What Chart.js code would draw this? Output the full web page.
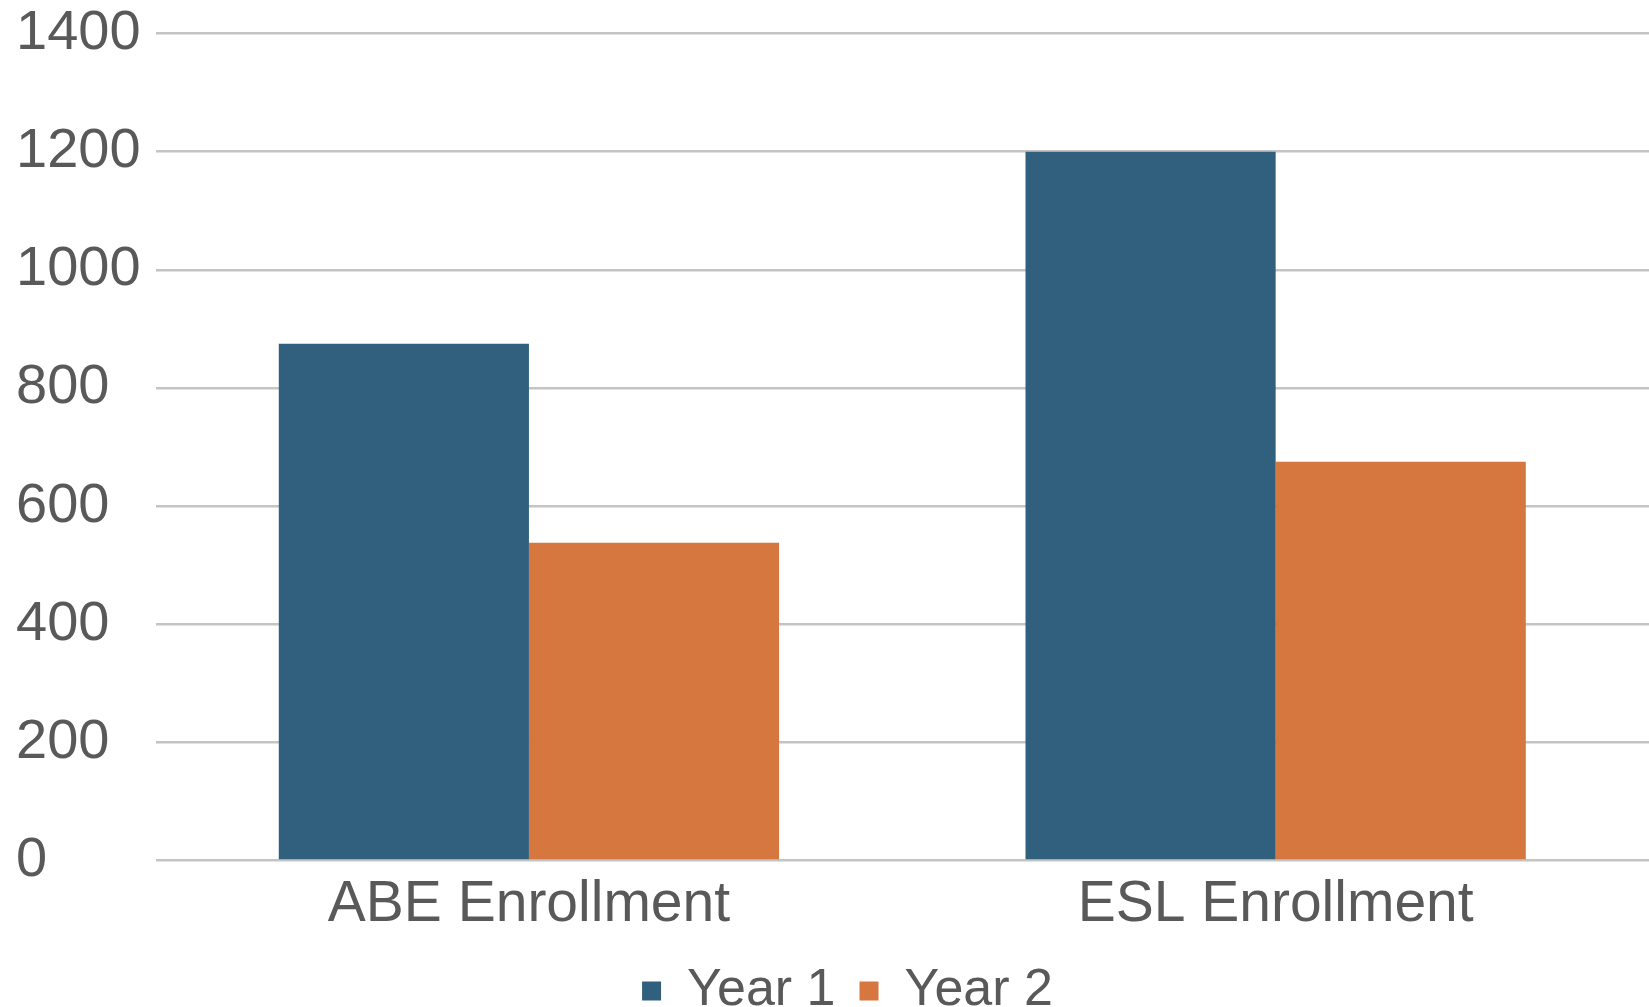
<!DOCTYPE html>
<html>
<head>
<meta charset="utf-8">
<title>Enrollment</title>
<script src="https://cdn.jsdelivr.net/npm/chart.js@4/dist/chart.umd.min.js"></script>
<style>
    html, body { margin: 0; padding: 0; background: #ffffff; }
    #wrap { width: 1649px; height: 1007px; position: relative; }
</style>
</head>
<body>
<div id="wrap"><canvas id="enrollChart"></canvas></div>
<script>
// Enrollment chart

const categories = ['ABE Enrollment', 'ESL Enrollment'];
const seriesNames = ['Year 1', 'Year 2'];
const year1 = [875, 1200];
const year2 = [538, 675];
const yTicks = [0, 200, 400, 600, 800, 1000, 1200, 1400];

const colors = ['#315f7e', '#d6773f'];
const textColor = '#595959';
const fontFamily = '"Liberation Sans", Arial, sans-serif';

// nudge the legend a little to the right, like the original
const legendShift = {
    id: 'legendShift',
    afterLayout(chart) {
        if (chart.legend) {
            chart.legend.left += 15;
            chart.legend.right += 15;
        }
    }
};

const ctx = document.getElementById('enrollChart');

new Chart(ctx, {
    type: 'bar',
    data: {
        labels: categories,
        datasets: [
            {
                label: seriesNames[0],
                data: year1,
                backgroundColor: colors[0],
                categoryPercentage: 0.67,
                barPercentage: 1.0
            },
            {
                label: seriesNames[1],
                data: year2,
                backgroundColor: colors[1],
                categoryPercentage: 0.67,
                barPercentage: 1.0
            }
        ]
    },
    plugins: [legendShift],
    options: {
        responsive: true,
        maintainAspectRatio: false,
        animation: false,
        layout: {
            padding: { left: 16, right: 0, top: -20, bottom: -20 }
        },
        plugins: {
            legend: {
                display: true,
                position: 'bottom',
                labels: {
                    color: textColor,
                    boxWidth: 19,
                    boxHeight: 19,
                    padding: 24,
                    font: { family: fontFamily, size: 52 }
                }
            },
            tooltip: { enabled: false }
        },
        scales: {
            x: {
                grid: { display: false },
                border: { display: false },
                ticks: {
                    color: textColor,
                    padding: 2,
                    font: { family: fontFamily, size: 57 }
                }
            },
            y: {
                min: yTicks[0],
                max: yTicks[yTicks.length - 1],
                afterBuildTicks: axis => {
                    axis.ticks = yTicks.map(v => ({ value: v }));
                },
                // room between the labels and the plot without adding top padding
                afterFit: axis => {
                    axis.width += 15;
                },
                grid: {
                    color: '#c4c4c4',
                    lineWidth: 2.5,
                    drawTicks: false
                },
                border: { display: false },
                ticks: {
                    color: textColor,
                    padding: 0,
                    crossAlign: 'far',
                    callback: value => String(value),
                    font: { family: fontFamily, size: 56 }
                }
            }
        }
    }
});
</script>
</body>
</html>
